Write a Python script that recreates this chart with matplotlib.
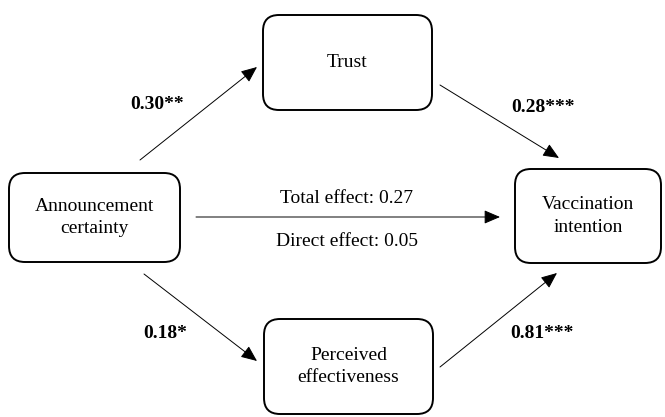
import matplotlib.pyplot as plt
from matplotlib.patches import FancyBboxPatch

# path model: nodes, coefficients
nodes = ["Announcement\ncertainty", "Trust", "Vaccination\nintention", "Perceived\neffectiveness"]
paths = [(0, 1), (1, 2), (0, 3), (3, 2)]
coefs = ["0.30**", "0.28***", "0.18*", "0.81***"]
total_effect = 0.27
direct_effect = 0.05

# layout in pixel units (x, y top-left, w, h)
boxes = [(9, 173, 171, 89), (263, 15, 169, 95), (515, 169, 146, 94), (264, 319, 169, 95)]
arrow_xy = [((140, 160), (257, 67)), ((440, 85), (559, 158)),
            ((144, 274), (257, 361)), ((440, 367), (557, 273))]
label_xy = [(157, 104), (543, 107), (165, 334), (542, 333)]

plt.rcParams['font.family'] = ['Liberation Serif', 'DejaVu Serif']

fig = plt.figure(figsize=(6.65, 4.17), dpi=100)
ax = fig.add_axes([0, 0, 1, 1])
ax.set_xlim(0, 665)
ax.set_ylim(417, 0)
ax.axis('off')

for name, (x, y, w, h) in zip(nodes, boxes):
    r = 16
    ax.add_patch(FancyBboxPatch((x + r, y + r), w - 2 * r, h - 2 * r,
                                boxstyle=f"round,pad={r},rounding_size={r}",
                                fc='white', ec='black', lw=1.4))
    ax.text(x + w / 2, y + h / 2, name, ha='center', va='center',
            fontsize=14, linespacing=1.45)

arrow_style = '-|>,head_length=0.7,head_width=0.3'
for (start, end) in arrow_xy:
    ax.annotate('', xy=end, xytext=start,
                arrowprops=dict(arrowstyle=arrow_style, mutation_scale=14,
                                color='black', lw=0.7, shrinkA=0, shrinkB=0))

for c, (x, y) in zip(coefs, label_xy):
    ax.text(x, y, c, ha='center', va='center', fontsize=14, fontweight='bold')

# direct path
ax.annotate('', xy=(500, 217), xytext=(196, 217),
            arrowprops=dict(arrowstyle=arrow_style, mutation_scale=14,
                            color='black', lw=0.7, shrinkA=0, shrinkB=0))
ax.text(347, 198, f"Total effect: {total_effect:.2f}", ha='center', va='center', fontsize=14)
ax.text(347, 241, f"Direct effect: {direct_effect:.2f}", ha='center', va='center', fontsize=14)

fig.savefig('out.png', dpi=100)
